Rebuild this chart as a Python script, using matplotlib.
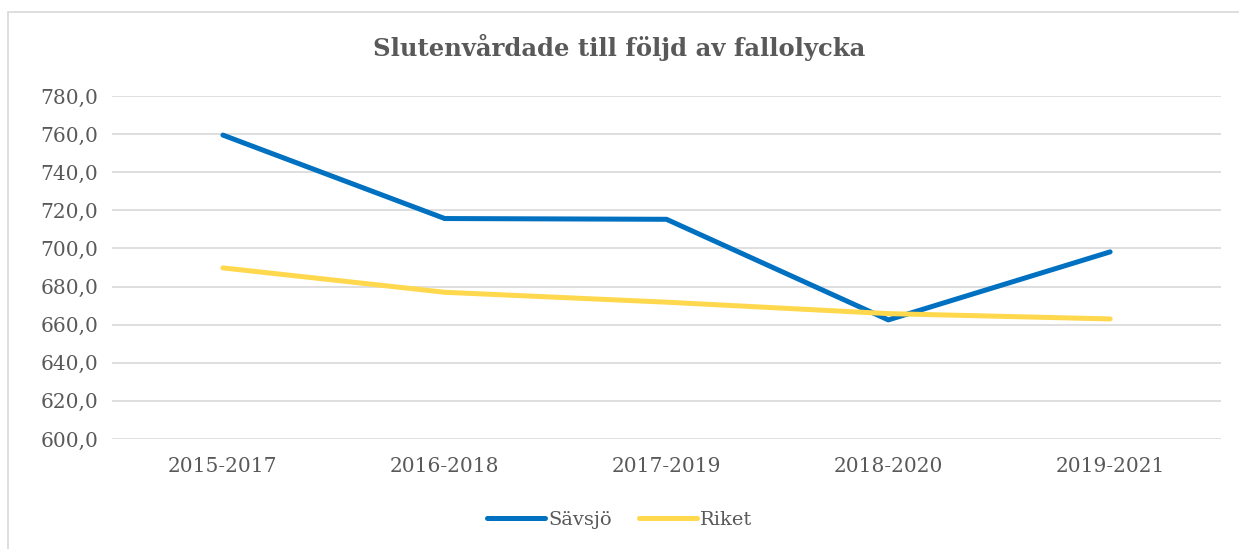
import matplotlib.pyplot as plt
import matplotlib.patches as patches

# data
perioder = ['2015-2017', '2016-2018', '2017-2019', '2018-2020', '2019-2021']
savsjo = [759.5, 715.7, 715.3, 662.5, 698.2]
riket = [689.8, 677.0, 671.8, 665.8, 663.0]

plt.rcParams['font.family'] = ['DejaVu Serif']
textfarg = '#595959'

fig = plt.figure(figsize=(12.39, 5.49), dpi=100)
ax = fig.add_axes([0.0904, 0.2004, 0.8951, 0.6247])

# light frame round the whole chart
fig.patches.append(patches.Rectangle((8 / 1239, -0.01), 1.0, 1 - 12 / 549 + 0.01,
                                     transform=fig.transFigure, fill=False,
                                     edgecolor='#d9d9d9', linewidth=1.2))

x = range(len(perioder))
ax.plot(x, savsjo, color='#0070c0', linewidth=3.6, label='Sävsjö', solid_capstyle='round')
ax.plot(x, riket, color='#ffd84d', linewidth=3.6, label='Riket', solid_capstyle='round')

ax.set_xlim(-0.5, len(perioder) - 0.5)
ax.set_ylim(600, 780)
ax.set_yticks(range(600, 781, 20))
ax.set_yticklabels([f'{v},0' for v in range(600, 781, 20)])
ax.set_xticks(list(x))
ax.set_xticklabels(perioder)
ax.grid(axis='y', color='#d9d9d9', linewidth=1.2)
ax.set_axisbelow(True)
for s in ax.spines.values():
    s.set_visible(False)
ax.tick_params(length=0, labelsize=14.5, colors=textfarg, pad=10)
ax.tick_params(axis='x', pad=13)

fig.text(0.5, 1 - 47 / 549, 'Slutenvårdade till följd av fallolycka', ha='center', va='center',
         fontsize=17.5, fontweight='bold', color=textfarg)

leg = fig.legend(loc='center', bbox_to_anchor=(0.5, 1 - 520 / 549), ncol=2, frameon=False,
                 fontsize=14, handlelength=3.0, columnspacing=1.4, handletextpad=0.15)
for t in leg.get_texts():
    t.set_color(textfarg)

fig.savefig('out.png', dpi=100)
